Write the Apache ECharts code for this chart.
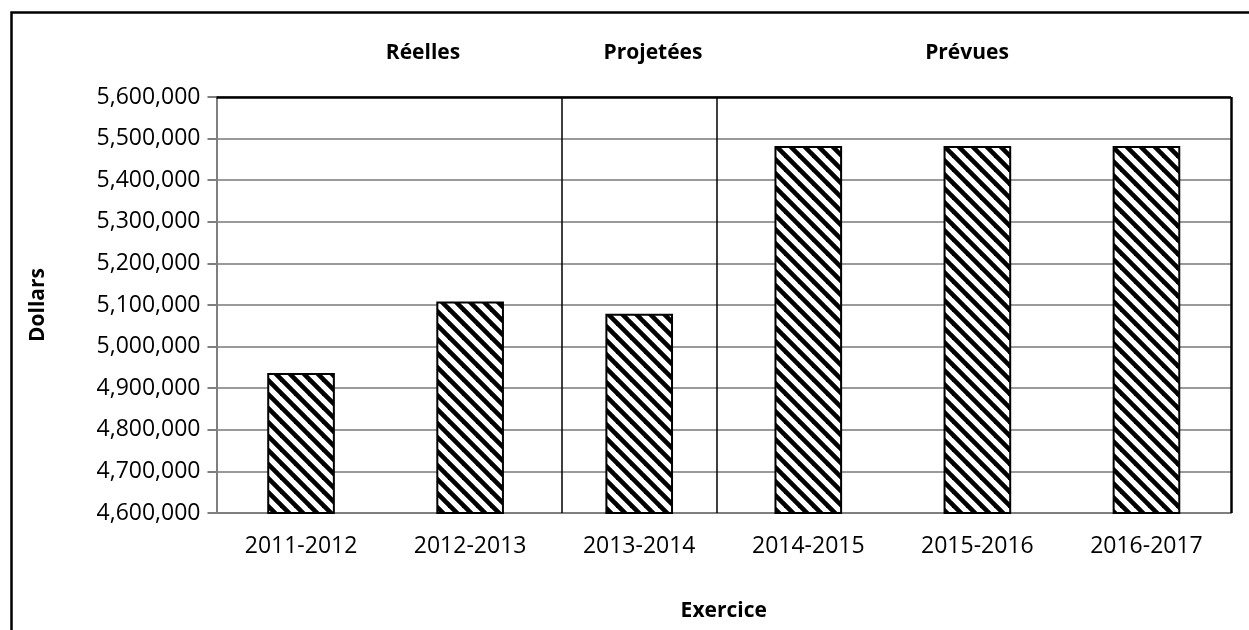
<!DOCTYPE html>
<html>
<head>
<meta charset="utf-8">
<script src="https://cdn.jsdelivr.net/npm/echarts@6/dist/echarts.min.js"></script>
<style>
  html, body { margin: 0; padding: 0; background: #fff; }
  #chart { width: 1249px; height: 630px; }
</style>
</head>
<body>
<div id="chart"></div>
<script>
// exercices (catégories) et dépenses en dollars
const categories = ["2011-2012", "2012-2013", "2013-2014", "2014-2015", "2015-2016", "2016-2017"];
const depenses = [4936500, 5108500, 5079000, 5482500, 5482500, 5482500];
// séparateurs entre les groupes (en unités de catégorie, 0 = bord gauche)
const separateurs = [2.04, 2.965];
const groupes = ["Réelles", "Projetées", "Prévues"];

// motif hachuré en diagonale
function makeHatch() {
  const n = 14;
  const c = document.createElement("canvas");
  c.width = n; c.height = n;
  const ctx = c.getContext("2d");
  ctx.fillStyle = "#fff";
  ctx.fillRect(0, 0, n, n);
  ctx.strokeStyle = "#000";
  ctx.lineWidth = 4.6;
  [-n, 0, n].forEach(function (k) {
    ctx.beginPath();
    ctx.moveTo(k - 2, -2);
    ctx.lineTo(k + n + 2, n + 2);
    ctx.stroke();
  });
  return c;
}

const chart = echarts.init(document.getElementById("chart"));
const font = "'Open Sans', sans-serif";

chart.setOption({
  animation: false,
  backgroundColor: "#fff",
  grid: { left: 216.5, right: 18, top: 97, bottom: 117 },
  graphic: [
    { type: "rect", left: 9, top: 10, shape: { width: 1260, height: 640 }, style: { fill: "none", stroke: "#000", lineWidth: 2.5 }, silent: true },
    { type: "text", x: 423, y: 53, style: { text: groupes[0], font: "bold 21px " + font, fill: "#000", align: "center", verticalAlign: "middle" } },
    { type: "text", x: 653, y: 53, style: { text: groupes[1], font: "bold 21px " + font, fill: "#000", align: "center", verticalAlign: "middle" } },
    { type: "text", x: 967, y: 53, style: { text: groupes[2], font: "bold 21px " + font, fill: "#000", align: "center", verticalAlign: "middle" } }
  ],
  xAxis: [
    {
      type: "category",
      data: categories,
      name: "Exercice",
      nameLocation: "middle",
      nameGap: 88,
      nameTextStyle: { fontFamily: font, fontWeight: "bold", fontSize: 21, color: "#000" },
      axisLine: { lineStyle: { color: "#7f7f7f", width: 2 } },
      axisTick: { show: false },
      axisLabel: { fontFamily: font, fontSize: 23, color: "#000", margin: 22 }
    },
    { type: "value", min: 0, max: 6, show: false }
  ],
  yAxis: {
    type: "value",
    min: 4600000,
    max: 5600000,
    interval: 100000,
    name: "Dollars",
    nameLocation: "middle",
    nameGap: 168,
    nameRotate: 90,
    nameTextStyle: { fontFamily: font, fontWeight: "bold", fontSize: 21, color: "#000" },
    axisLine: { show: true, lineStyle: { color: "#7f7f7f", width: 2 } },
    axisTick: { show: true, length: 9, lineStyle: { color: "#7f7f7f", width: 2 } },
    axisLabel: {
      fontFamily: font, fontSize: 23, color: "#000", margin: 16,
      formatter: function (v) { return v.toLocaleString("en-US"); }
    },
    splitLine: { lineStyle: { color: "#9a9a9a", width: 2 } }
  },
  series: [
    {
      type: "bar",
      data: depenses,
      barWidth: "40%",
      itemStyle: {
        color: { image: makeHatch(), repeat: "repeat" },
        borderColor: "#000",
        borderWidth: 2
      }
    },
    {
      type: "line",
      xAxisIndex: 1,
      data: [],
      markLine: {
        silent: true,
        symbol: "none",
        label: { show: false },
        lineStyle: { color: "#000", width: 1.5, type: "solid" },
        data: separateurs.map(function (s) { return { xAxis: s }; }).concat([
          // bords haut et droit du cadre du graphique
          { yAxis: 5600000, lineStyle: { width: 2.5 } },
          { xAxis: 6, lineStyle: { width: 2.5 } }
        ])
      }
    }
  ]
});
</script>
</body>
</html>
